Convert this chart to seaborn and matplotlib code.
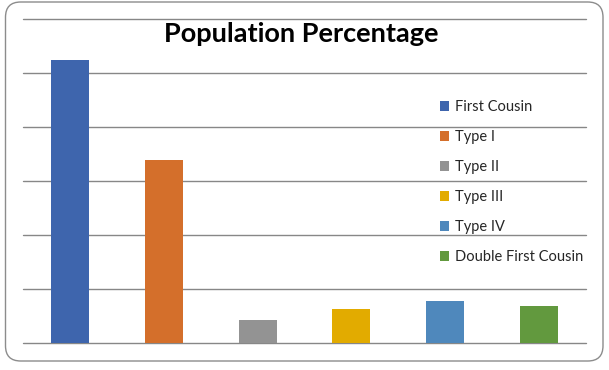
import matplotlib
matplotlib.use("Agg")
import matplotlib.pyplot as plt
from matplotlib.patches import FancyBboxPatch, Patch
import seaborn as sns

# values (gridline step = 10)
categories = ["First Cousin", "Type I", "Type II", "Type III", "Type IV", "Double First Cousin"]
percentages = [52.5, 33.9, 4.3, 6.35, 7.8, 6.9]
bar_colors = ["#3E65AD", "#D46F2B", "#939393", "#E2AB00", "#4F88BC", "#62993E"]
title_text = "Population Percentage"

sns.set_style("white")
plt.rcParams["font.family"] = ["Lato", "DejaVu Sans"]

fig = plt.figure(figsize=(6.09, 3.70), dpi=100)

# rounded chart border like an Excel chart frame
frame = FancyBboxPatch((5.5 / 609, 9 / 370), 597.5 / 609, 359 / 370,
                       boxstyle="round,pad=0,rounding_size=0.025",
                       transform=fig.transFigure, facecolor="none",
                       edgecolor="#8C8C8C", linewidth=1.0,
                       mutation_aspect=609 / 370, zorder=-1)
fig.patches.append(frame)

ax = fig.add_axes([23.3 / 609, 26.7 / 370, 562.4 / 609, 324 / 370])
ax.set_facecolor("none")

sns.barplot(x=categories, y=percentages, hue=categories, palette=bar_colors,
            width=0.405, dodge=False, legend=False, saturation=1,
            linewidth=0, ax=ax)

ax.set_xlim(-0.5, 5.5)
ax.set_ylim(0, 60)
ax.set_yticks(range(0, 61, 10))
ax.yaxis.grid(True, color="#878787", linewidth=1.0)
for gl in ax.yaxis.get_gridlines():
    gl.set_clip_on(False)
ax.set_axisbelow(True)
ax.set_xticks([])
ax.tick_params(left=False, bottom=False, labelleft=False)
ax.set_xlabel("")
ax.set_ylabel("")
sns.despine(ax=ax, left=True, bottom=True)

fig.text(301 / 609, 1 - 34.5 / 370, title_text, ha="center", va="center",
         fontsize=19.5, fontweight="bold", color="black")

handles = [Patch(facecolor=c, edgecolor="none") for c in bar_colors]
leg = fig.legend(handles, categories, loc="upper left",
                 bbox_to_anchor=(440 / 609, 1 - 100 / 370), frameon=False,
                 fontsize=10.5, handlelength=0.65, handleheight=0.65,
                 handletextpad=0.35, labelspacing=1.1, borderpad=0, borderaxespad=0)

fig.savefig("out.png", dpi=100)
